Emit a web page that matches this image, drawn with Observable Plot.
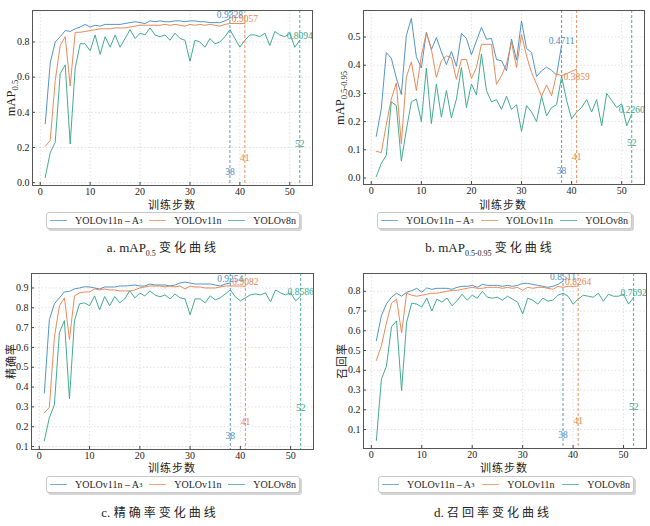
<!DOCTYPE html>
<html><head><meta charset="utf-8">
<script src="https://cdn.jsdelivr.net/npm/d3@7"></script>
<script src="https://cdn.jsdelivr.net/npm/@observablehq/plot@0.6"></script>
<style>
body{margin:0;background:#fff}
#root{position:relative;width:650px;height:526px;font-family:"Liberation Serif","Noto Sans CJK SC",serif;color:#222;overflow:hidden}
.pan{position:absolute}
.ylab{position:absolute;transform:translate(-50%,-50%) rotate(-90deg);white-space:nowrap;font-size:12.5px}
.ylab sub{font-size:8.5px}
.xlab{position:absolute;transform:translate(-50%,-50%);font-size:11px;white-space:nowrap;font-family:"Noto Sans CJK SC";letter-spacing:1px}
.legend{position:absolute;border:1px solid #c8c8c8;border-radius:3px;box-shadow:2px 2px 0 #d4d4d4;background:#fff;display:flex;align-items:center;justify-content:space-between;font-size:10px;height:17px;box-sizing:border-box;padding:0 3px}
.legend sup{font-size:7px}
.item{display:flex;align-items:center;white-space:nowrap}
.swatch{display:inline-block;width:17px;height:0;border-top:1.2px solid;margin-right:8px;opacity:0.75}
.cap{position:absolute;transform:translate(-50%,-50%);font-size:13px;white-space:nowrap}
.cap sub{font-size:8px}
.cap .zh{font-family:"Noto Sans CJK SC";letter-spacing:3px;font-size:12px}
</style></head><body><div id="root"></div>
<script>
// training steps
const epochs = d3.range(1, 53);
const xTicks = [0, 10, 20, 30, 40, 50];
const seriesNames = ["YOLOv11n－A³", "YOLOv11n", "YOLOv8n"];
const seriesColors = ["#4c8dc4", "#e6854f", "#3aa68a"];

// a. mAP0.5
const mAP50_A3 = [0.335,0.68,0.80,0.83,0.865,0.86,0.875,0.885,0.90,0.885,0.895,0.89,0.90,0.90,0.90,0.90,0.905,0.91,0.915,0.91,0.905,0.92,0.915,0.92,0.915,0.915,0.92,0.92,0.915,0.92,0.92,0.915,0.915,0.91,0.91,0.91,0.92,0.9328];
const mAP50_v11n = [0.207,0.24,0.58,0.78,0.83,0.55,0.855,0.855,0.86,0.865,0.87,0.875,0.875,0.875,0.88,0.88,0.88,0.885,0.89,0.895,0.895,0.895,0.895,0.895,0.90,0.895,0.90,0.895,0.89,0.90,0.895,0.90,0.895,0.90,0.895,0.89,0.90,0.905,0.905,0.905,0.9057];
const mAP50_v8n = [0.03,0.17,0.23,0.62,0.67,0.22,0.65,0.79,0.79,0.75,0.84,0.73,0.83,0.77,0.84,0.77,0.82,0.87,0.82,0.85,0.84,0.88,0.84,0.83,0.84,0.81,0.85,0.82,0.81,0.69,0.81,0.80,0.77,0.82,0.79,0.80,0.83,0.87,0.82,0.77,0.81,0.84,0.84,0.83,0.85,0.78,0.86,0.84,0.83,0.85,0.77,0.8094];

// b. mAP0.5-0.95
const mAP5095_A3 = [0.148,0.245,0.445,0.425,0.355,0.296,0.505,0.566,0.43,0.39,0.517,0.455,0.498,0.447,0.402,0.449,0.396,0.513,0.495,0.437,0.486,0.534,0.492,0.495,0.42,0.416,0.38,0.493,0.418,0.557,0.459,0.445,0.36,0.38,0.393,0.382,0.365,0.4711];
const mAP5095_v11n = [0.095,0.09,0.19,0.28,0.337,0.122,0.357,0.412,0.31,0.433,0.515,0.457,0.357,0.416,0.433,0.427,0.35,0.42,0.42,0.353,0.392,0.474,0.474,0.474,0.332,0.363,0.404,0.482,0.392,0.509,0.433,0.374,0.333,0.29,0.33,0.292,0.369,0.363,0.37,0.378,0.3859];
const mAP5095_v8n = [0.005,0.052,0.08,0.27,0.257,0.06,0.17,0.27,0.28,0.2,0.39,0.193,0.333,0.216,0.31,0.213,0.28,0.392,0.25,0.333,0.295,0.44,0.31,0.27,0.278,0.243,0.29,0.243,0.26,0.165,0.257,0.234,0.2,0.29,0.22,0.25,0.26,0.36,0.275,0.21,0.234,0.25,0.278,0.234,0.278,0.185,0.3,0.275,0.25,0.263,0.185,0.226];

// c. precision
const prec_A3 = [0.37,0.74,0.82,0.85,0.88,0.883,0.895,0.90,0.906,0.905,0.90,0.895,0.905,0.905,0.905,0.91,0.91,0.912,0.915,0.91,0.91,0.92,0.915,0.915,0.915,0.91,0.915,0.925,0.93,0.925,0.92,0.92,0.92,0.92,0.915,0.91,0.92,0.9254];
const prec_v11n = [0.27,0.297,0.65,0.81,0.85,0.64,0.86,0.875,0.88,0.88,0.895,0.89,0.895,0.89,0.89,0.885,0.885,0.885,0.89,0.90,0.905,0.91,0.91,0.91,0.905,0.91,0.905,0.91,0.895,0.91,0.905,0.905,0.90,0.90,0.90,0.905,0.91,0.91,0.91,0.91,0.9082];
const prec_v8n = [0.129,0.246,0.31,0.675,0.735,0.34,0.735,0.82,0.825,0.81,0.86,0.79,0.857,0.81,0.857,0.825,0.845,0.886,0.85,0.874,0.86,0.885,0.865,0.855,0.865,0.845,0.87,0.85,0.845,0.765,0.845,0.845,0.825,0.86,0.84,0.85,0.87,0.89,0.855,0.835,0.85,0.865,0.87,0.865,0.875,0.83,0.89,0.875,0.865,0.875,0.835,0.8586];

// d. recall
const rec_A3 = [0.55,0.677,0.736,0.77,0.79,0.775,0.795,0.803,0.815,0.795,0.817,0.81,0.815,0.815,0.815,0.81,0.82,0.825,0.825,0.83,0.82,0.835,0.83,0.83,0.83,0.825,0.83,0.825,0.83,0.84,0.84,0.835,0.83,0.825,0.82,0.825,0.835,0.8511];
const rec_v11n = [0.45,0.525,0.64,0.74,0.76,0.59,0.79,0.78,0.775,0.78,0.785,0.79,0.79,0.795,0.80,0.805,0.805,0.81,0.815,0.82,0.815,0.815,0.82,0.82,0.82,0.815,0.82,0.815,0.82,0.805,0.82,0.815,0.82,0.82,0.815,0.81,0.825,0.82,0.825,0.825,0.8264];
const rec_v8n = [0.045,0.356,0.42,0.62,0.65,0.297,0.643,0.74,0.735,0.72,0.766,0.70,0.76,0.745,0.766,0.727,0.752,0.785,0.755,0.78,0.765,0.80,0.77,0.765,0.77,0.755,0.775,0.76,0.745,0.685,0.765,0.755,0.735,0.765,0.75,0.755,0.78,0.79,0.775,0.735,0.76,0.78,0.775,0.77,0.79,0.75,0.785,0.775,0.775,0.785,0.735,0.7692];

const yTicksA = [0.0, 0.2, 0.4, 0.6, 0.8];
const yTicksB = [0.0, 0.1, 0.2, 0.3, 0.4, 0.5];
const yTicksC = [0.1, 0.2, 0.3, 0.4, 0.5, 0.6, 0.7, 0.8, 0.9];
const yTicksD = [0.1, 0.2, 0.3, 0.4, 0.5, 0.6, 0.7, 0.8];

const root = document.getElementById("root");

function panel(cfg) {
  const W = 325, H = 212;
  const marks = [
    Plot.gridX(xTicks, {stroke: "#b8b8b8", strokeOpacity: 0.7, strokeDasharray: "1.5,2", strokeWidth: 0.6}),
    Plot.gridY(cfg.yTicks, {stroke: "#b8b8b8", strokeOpacity: 0.7, strokeDasharray: "1.5,2", strokeWidth: 0.6})
  ];
  cfg.series.forEach((vals, si) => {
    marks.push(Plot.line(vals, {x: (d, i) => epochs[i], y: d => d, stroke: seriesColors[si], strokeWidth: 0.95}));
  });
  cfg.series.forEach((vals, si) => {
    const end = [{x: epochs[vals.length - 1], y: vals[vals.length - 1]}];
    marks.push(Plot.ruleX(end, {x: "x", stroke: seriesColors[si], strokeDasharray: "3,2", strokeWidth: 0.9}));
    marks.push(Plot.text(end, {x: "x", frameAnchor: "bottom", text: d => String(d.x), fill: seriesColors[si], dy: -14 * (si + 1), fontSize: 9.5, lineAnchor: "middle"}));
    marks.push(Plot.text(end, {x: "x", y: "y", text: d => d3.format(".4f")(d.y), fill: seriesColors[si], dy: (cfg.endDy && cfg.endDy[si] != null) ? cfg.endDy[si] : -4, fontSize: 9.5, lineAnchor: "middle"}));
  });
  marks.push(Plot.axisX(xTicks, {tickSize: -3, tickPadding: 5, tickFormat: d => String(d), fontSize: 10, stroke: "#444"}));
  marks.push(Plot.axisY(cfg.yTicks, {tickSize: -3, tickPadding: 6, tickFormat: d3.format(".1f"), fontSize: 10, stroke: "#444"}));
  marks.push(Plot.frame({stroke: "#555", strokeWidth: 1}));
  const svg = Plot.plot({
    width: W, height: H,
    marginLeft: cfg.mL, marginRight: cfg.mR, marginTop: cfg.mT, marginBottom: cfg.mB,
    x: {domain: [-1.55, 54.55], label: null},
    y: {domain: cfg.yDomain, label: null},
    style: {fontFamily: "Liberation Serif, serif", fontSize: "10px", color: "#222", background: "transparent"},
    marks
  });
  const holder = document.createElement("div");
  holder.className = "pan";
  holder.style.left = cfg.left + "px";
  holder.style.top = cfg.top + "px";
  holder.appendChild(svg);
  root.appendChild(holder);
}

function addHTML(cls, html, x, y, extra) {
  const d = document.createElement("div");
  d.className = cls;
  d.innerHTML = html;
  d.style.left = x + "px";
  d.style.top = y + "px";
  if (extra) Object.assign(d.style, extra);
  root.appendChild(d);
}

function legend(x, y, w) {
  const items = seriesNames.map((n, i) => {
    const label = n.replace("－", " – ").replace("³", "<sup>3</sup>");
    return `<span class="item"><span class="swatch" style="border-color:${seriesColors[i]}"></span>${label}</span>`;
  }).join("");
  addHTML("legend", items, x, y, {width: w + "px"});
}

panel({left: 0, top: 0, mL: 32, mR: 13, mT: 10, mB: 27, yDomain: [-0.016, 0.979], yTicks: yTicksA, series: [mAP50_A3, mAP50_v11n, mAP50_v8n]});
panel({left: 325, top: 0, mL: 38, mR: 6, mT: 10, mB: 28, yDomain: [-0.023, 0.594], yTicks: yTicksB, series: [mAP5095_A3, mAP5095_v11n, mAP5095_v8n], endDy: [-4, 8, -4]});
panel({left: 0, top: 263, mL: 31, mR: 12, mT: 10, mB: 26, yDomain: [0.085, 0.973], yTicks: yTicksC, series: [prec_A3, prec_v11n, prec_v8n]});
panel({left: 325, top: 263, mL: 38, mR: 4, mT: 10, mB: 27, yDomain: [0.004, 0.89], yTicks: yTicksD, series: [rec_A3, rec_v11n, rec_v8n]});

// y labels
addHTML("ylab", "mAP<sub>0.5</sub>", 12, 98);
addHTML("ylab", "mAP<sub>0.5-0.95</sub>", 341, 98);
addHTML("ylab", '<span style="font-family:Noto Sans CJK SC;font-size:11px;letter-spacing:1px">精确率</span>', 10, 361);
addHTML("ylab", '<span style="font-family:Noto Sans CJK SC;font-size:11px;letter-spacing:1px">召回率</span>', 341, 361);

// x labels
addHTML("xlab", "训练步数", 172, 204);
addHTML("xlab", "训练步数", 503, 204);
addHTML("xlab", "训练步数", 172, 467);
addHTML("xlab", "训练步数", 504, 467);

// legends
legend(46, 212, 254);
legend(377, 212, 255);
legend(46, 476, 254);
legend(378, 476, 256);

// captions
addHTML("cap", 'a. mAP<sub>0.5</sub> <span class="zh">变化曲线</span>', 163, 248);
addHTML("cap", 'b. mAP<sub>0.5-0.95</sub> <span class="zh">变化曲线</span>', 490, 248);
addHTML("cap", 'c. <span class="zh">精确率变化曲线</span>', 160, 512);
addHTML("cap", 'd. <span class="zh">召回率变化曲线</span>', 493, 512);
</script></body></html>
